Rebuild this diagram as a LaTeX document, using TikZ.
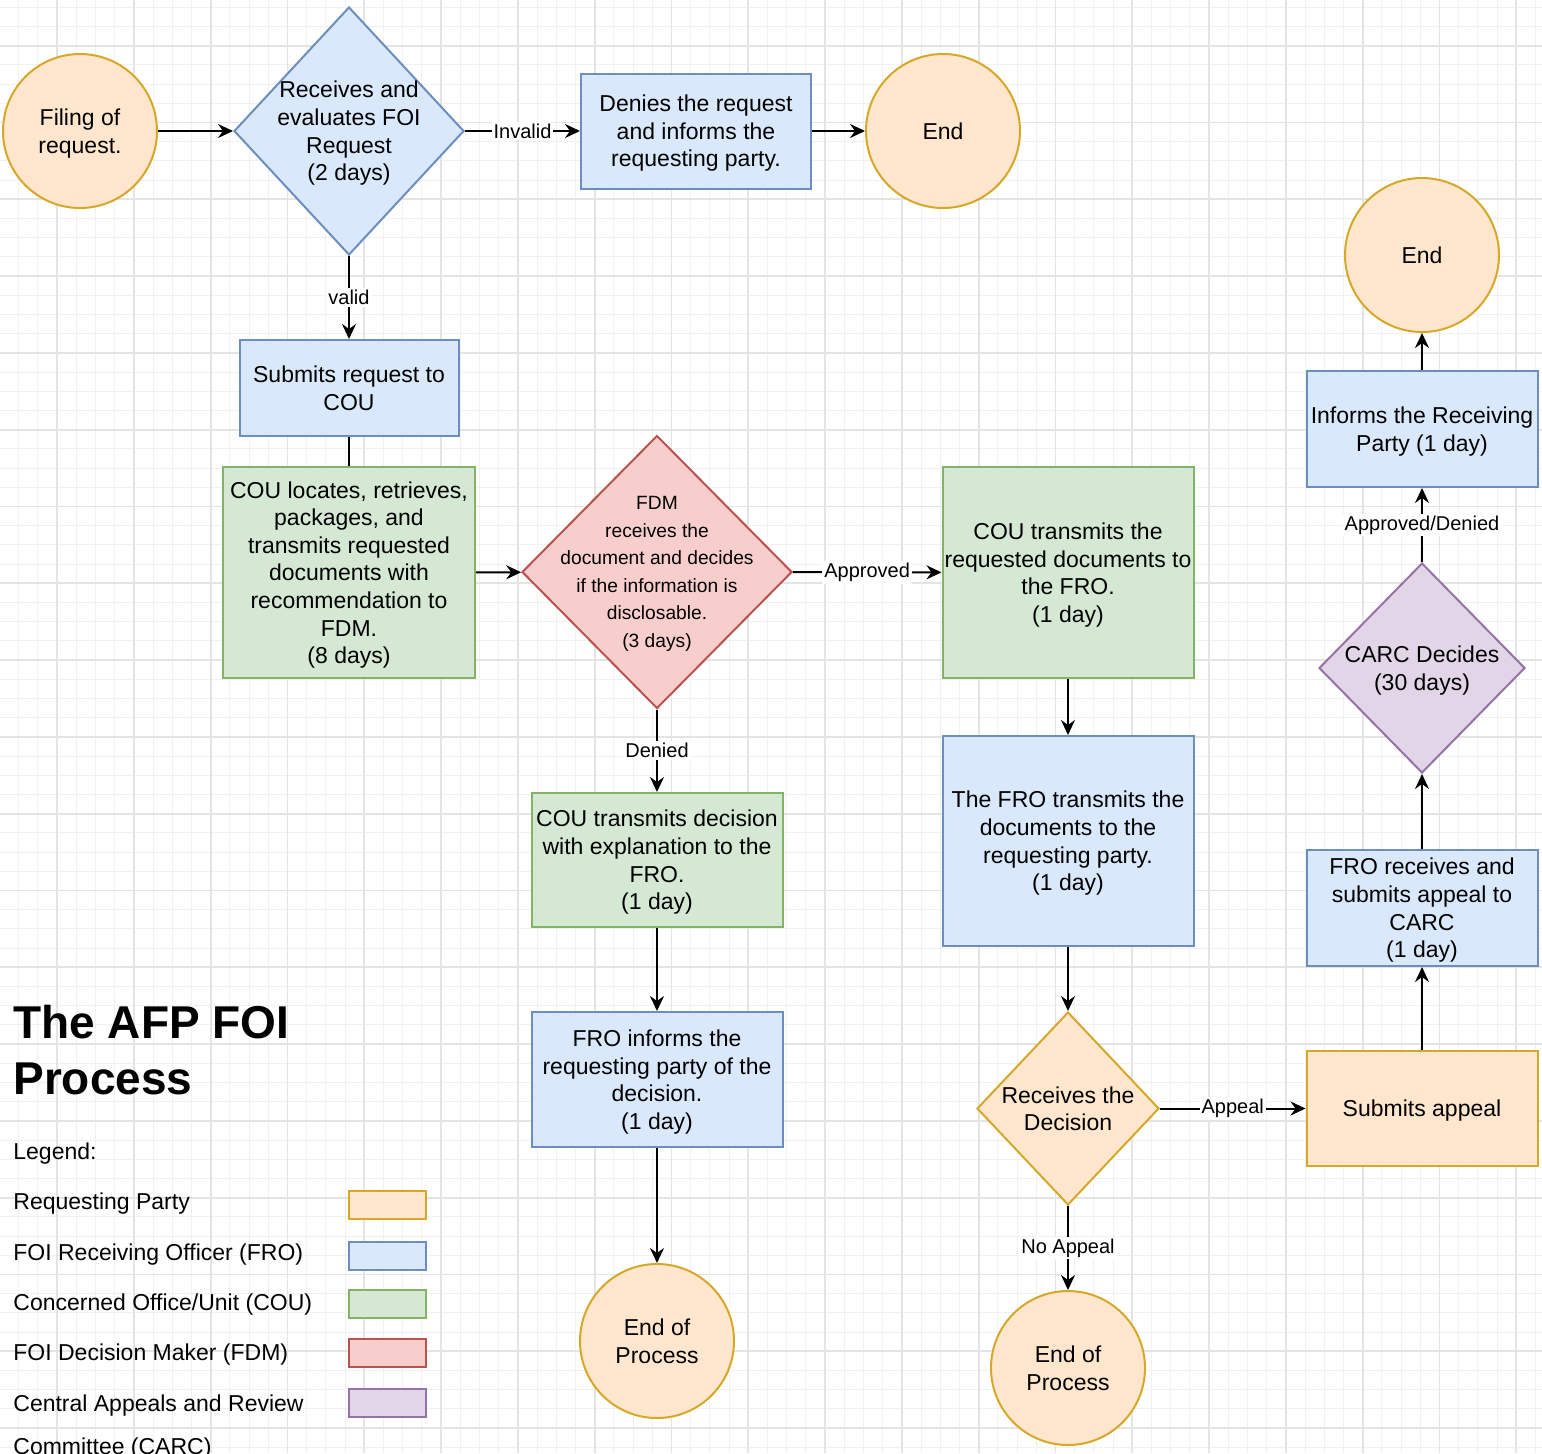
\documentclass[tikz,border=0pt]{standalone}
\usepackage{fontspec}
\setmainfont{Liberation Sans}
\usetikzlibrary{shapes}
\usetikzlibrary{arrows.meta}
\definecolor{rpfill}{HTML}{FFE6CC}
\definecolor{rpline}{HTML}{D6A82A}
\definecolor{frofill}{HTML}{DAE8FC}
\definecolor{froline}{HTML}{6C8EBF}
\definecolor{coufill}{HTML}{D5E8D4}
\definecolor{couline}{HTML}{82B366}
\definecolor{fdmfill}{HTML}{F8CECC}
\definecolor{fdmline}{HTML}{B85450}
\definecolor{carcfill}{HTML}{E1D5E7}
\definecolor{carcline}{HTML}{9673A6}
\definecolor{gridminor}{HTML}{F1F1F1}
\definecolor{gridmajor}{HTML}{E4E4E4}
\tikzset{
	flownode/.style = {
		align=center,
		inner sep=0pt,
		line width=1pt,
		font=\fontsize{11.5}{13.8}\selectfont,
		text depth=-0.6pt
	},
	node_end/.style = {
		flownode,
		circle,
		draw=rpline,
		fill=rpfill,
		minimum size=77pt
	},
	node_box/.style = {
		flownode,
		rectangle,
		minimum width=125.5pt
	},
	node_fro/.style = {
		node_box,
		draw=froline,
		fill=frofill
	},
	node_cou/.style = {
		node_box,
		draw=couline,
		fill=coufill
	},
	node_rp/.style = {
		node_box,
		draw=rpline,
		fill=rpfill
	},
	node_dia/.style = {
		flownode,
		diamond,
		inner sep=-12pt
	},
	node_fro_dia/.style = {
		node_dia,
		draw=froline,
		fill=frofill
	},
	node_fdm_dia/.style = {
		node_dia,
		draw=fdmline,
		fill=fdmfill,
		font=\fontsize{9.6}{13.75}\selectfont
	},
	node_rp_dia/.style = {
		node_dia,
		draw=rpline,
		fill=rpfill
	},
	node_carc_dia/.style = {
		node_dia,
		draw=carcline,
		fill=carcfill
	},
	flow/.style = {
		->,
		line width=1pt
	},
	edge_label/.style = {
		fill=white,
		inner sep=1pt,
		font=\fontsize{10}{12}\selectfont
	},
	legend_text/.style = {
		anchor=west,
		inner sep=0pt,
		font=\fontsize{11.5}{13.8}\selectfont
	},
	legend_key/.style = {
		rectangle,
		line width=1pt,
		minimum width=38.5pt,
		minimum height=14pt
	},
	grid_minor/.style = {
		draw=gridminor,
		line width=0.5pt
	},
	grid_major/.style = {
		draw=gridmajor,
		line width=0.9pt
	},
}

\begin{document}
\begin{tikzpicture}[x=0.5pt, y=-0.5pt, >={Stealth[length=7.5pt,width=7pt,inset=2.5pt]}]
\useasboundingbox (0,0) rectangle (1542,1453);
\fill[white] (0,0) rectangle (1542,1453);
% grid
\foreach \gx in {18.6,37.8,...,1542} \draw[grid_minor] (\gx,0) -- (\gx,1453);
\foreach \gy in {7.2,26.4,...,1453} \draw[grid_minor] (0,\gy) -- (1542,\gy);
\foreach \gx in {57,133.8,...,1542} \draw[grid_major] (\gx,0) -- (\gx,1453);
\foreach \gy in {45.6,122.4,...,1453} \draw[grid_major] (0,\gy) -- (1542,\gy);

% first row
\node [node_end] (filing) at (80,131) {Filing of\\request.};
\node [node_fro_dia, minimum width=115pt, minimum height=124pt] (evaluate) at (349,131)
	{Receives and\\evaluates FOI\\Request\\(2 days)};
\node [node_fro, minimum width=115pt, minimum height=57.5pt] (deny) at (696,131)
	{Denies the request\\and informs the\\requesting party.};
\node [node_end] (end_deny) at (943,131) {End};

% COU and FDM
\node [node_fro, minimum width=109.5pt, minimum height=48pt] (submit) at (349,388)
	{Submits request to\\COU};
\node [node_cou, minimum width=126pt, minimum height=105.5pt] (locate) at (349,572.5)
	{COU locates, retrieves,\\packages, and\\transmits requested\\documents with\\recommendation to\\FDM.\\(8 days)};
\node [node_fdm_dia, minimum width=135pt, minimum height=136.5pt] (fdm) at (657,572)
	{FDM\\receives the\\document and decides\\if the information is\\disclosable.\\(3 days)};

% denied branch
\node [node_cou, minimum height=67pt] (decision) at (657,860)
	{COU transmits decision\\with explanation to the\\FRO.\\(1 day)};
\node [node_fro, minimum height=67.5pt] (inform_rp) at (657,1079.5)
	{FRO informs the\\requesting party of the\\decision.\\(1 day)};
\node [node_end] (end_denied) at (657,1341) {End of\\Process};

% approved branch
\node [node_cou, minimum height=105.5pt] (transmit) at (1068,572.5)
	{COU transmits the\\requested documents to\\the FRO.\\(1 day)};
\node [node_fro, minimum height=105pt] (fro_send) at (1068,841)
	{The FRO transmits the\\documents to the\\requesting party.\\(1 day)};
\node [node_rp_dia, minimum width=91pt, minimum height=96.5pt] (receive) at (1068,1108.5)
	{Receives the\\Decision};
\node [node_end] (end_approved) at (1068,1368) {End of\\Process};

% appeal
\node [node_rp, minimum width=115.5pt, minimum height=57.5pt] (appeal) at (1422,1108.5)
	{Submits appeal};
\node [node_fro, minimum width=115.5pt, minimum height=58pt] (fro_appeal) at (1422,908)
	{FRO receives and\\submits appeal to\\CARC\\(1 day)};
\node [node_carc_dia, minimum width=103pt, minimum height=105pt] (carc) at (1422,668)
	{CARC Decides\\(30 days)};
\node [node_fro, minimum width=115.5pt, minimum height=58pt] (inform_party) at (1422,429)
	{Informs the Receiving\\Party (1 day)};
\node [node_end] (end_appeal) at (1422,255) {End};

% connectors
\draw [flow] (filing) -- (evaluate);
\draw [flow] (evaluate) -- node [edge_label] {Invalid} (deny);
\draw [flow] (deny) -- (end_deny);
\draw [flow] (evaluate) -- node [edge_label] {valid} (submit);
\draw [line width=1pt] (submit) -- (locate);
\draw [flow] (locate) -- (fdm);
\draw [flow] (fdm) -- node [edge_label] {Approved} (transmit);
\draw [flow] (fdm) -- node [edge_label] {Denied} (decision);
\draw [flow] (decision) -- (inform_rp);
\draw [flow] (inform_rp) -- (end_denied);
\draw [flow] (transmit) -- (fro_send);
\draw [flow] (fro_send) -- (receive);
\draw [flow] (receive) -- node [edge_label] {Appeal} (appeal);
\draw [flow] (receive) -- node [edge_label] {No Appeal} (end_approved);
\draw [flow] (appeal) -- (fro_appeal);
\draw [flow] (fro_appeal) -- (carc);
\draw [flow] (carc) -- node [edge_label] {Approved/Denied} (inform_party);
\draw [flow] (inform_party) -- (end_appeal);

% title and legend
\node [anchor=north west, inner sep=0pt, align=left, font=\fontsize{23}{28}\selectfont\bfseries] (title) at (13,1005)
	{The AFP FOI\\Process};
\node [legend_text] (legend) at (13,1154) {Legend:};
\foreach \key/\ty/\sy/\keytext in {rp/1204/1204.5/Requesting Party, fro/1255/1256/FOI Receiving Officer (FRO), cou/1305/1304/{Concerned Office/Unit (COU)}, fdm/1355/1353/FOI Decision Maker (FDM), carc/1406/1403/Central Appeals and Review}
{
	\node [legend_text] (key_text_\key) at (13,\ty) {\keytext};
	\node [legend_key, draw=\key line, fill=\key fill] (key_\key) at (387.5,\sy) {};
}
\node [legend_text] (key_text_carc2) at (13,1449) {Committee (CARC)};
\end{tikzpicture}
\end{document}
